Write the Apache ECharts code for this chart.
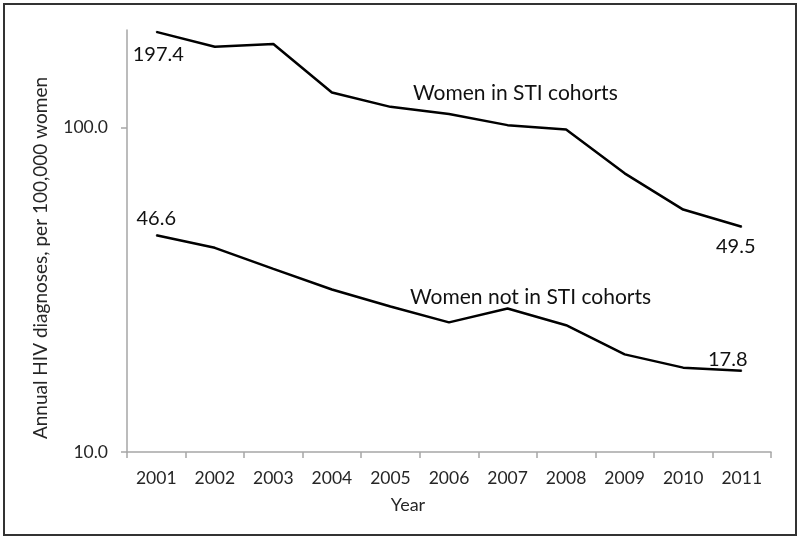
<!DOCTYPE html>
<html>
<head>
<meta charset="utf-8">
<script src="https://cdn.jsdelivr.net/npm/echarts@6/dist/echarts.min.js"></script>
<style>
html,body{margin:0;padding:0;background:#fff;}
#main{width:800px;height:540px;}
</style>
</head>
<body>
<div id="main"></div>
<script>
const years = ['2001','2002','2003','2004','2005','2006','2007','2008','2009','2010','2011'];
const womenInSTI = [197.4, 177.5, 181.0, 128.4, 115.9, 110.1, 101.8, 98.7, 72.3, 55.9, 49.5];
const womenNotInSTI = [46.6, 42.6, 36.7, 31.7, 28.1, 25.1, 27.7, 24.6, 20.0, 18.2, 17.8];
const yTicks = [10, 100];
const yAxisTitle = 'Annual HIV diagnoses, per 100,000 women';
const xAxisTitle = 'Year';
const seriesNames = ['Women in STI cohorts', 'Women not in STI cohorts'];

const FONT = 'Lato';
const chart = echarts.init(document.getElementById('main'), null, {renderer:'canvas'});

function endLabel(p){
  return (p.dataIndex === 0 || p.dataIndex === years.length - 1) ? p.value.toFixed(1) : '';
}

chart.setOption({
  backgroundColor: '#fff',
  animation: false,
  grid: {left: 127, right: 29, top: 30, bottom: 88, containLabel: false},
  xAxis: {
    type: 'category',
    data: years,
    boundaryGap: true,
    axisLine: {lineStyle: {color: '#a6a6a6', width: 1.5}},
    axisTick: {show: true, length: 6, lineStyle: {color: '#a6a6a6', width: 1.5}},
    axisLabel: {color: '#262626', fontFamily: FONT, fontSize: 17.5, margin: 17}
  },
  yAxis: {
    type: 'log',
    logBase: 10,
    min: 10,
    max: 200,
    axisLine: {show: true, lineStyle: {color: '#a6a6a6', width: 1.5}},
    axisTick: {show: true, length: 6, customValues: yTicks, lineStyle: {color: '#a6a6a6', width: 1.5}},
    axisLabel: {color: '#262626', fontFamily: FONT, fontSize: 17.5, margin: 19, customValues: yTicks,
      formatter: v => Number(v).toFixed(1)},
    splitLine: {show: true, showMinLine: false, showMaxLine: false, lineStyle: {color: '#a6a6a6', width: 1.5}}
  },
  graphic: [
    {type: 'rect', shape: {x: 4, y: 4, width: 792, height: 531}, style: {fill: 'none', stroke: '#333', lineWidth: 2}, silent: true},
    {type: 'text', x: 41, y: 258, rotation: Math.PI / 2,
      style: {text: yAxisTitle, fontFamily: FONT, fontSize: 19, fill: '#262626', align: 'center', verticalAlign: 'middle'}},
    {type: 'text', x: 408, y: 505,
      style: {text: xAxisTitle, fontFamily: FONT, fontSize: 18, fill: '#262626', align: 'center', verticalAlign: 'middle'}},
    {type: 'text', x: 413, y: 93,
      style: {text: seriesNames[0], fontFamily: FONT, fontSize: 21, fill: '#111', align: 'left', verticalAlign: 'middle'}},
    {type: 'text', x: 410, y: 297,
      style: {text: seriesNames[1], fontFamily: FONT, fontSize: 21, fill: '#111', align: 'left', verticalAlign: 'middle'}}
  ],
  series: [
    {
      name: seriesNames[0], type: 'line', data: womenInSTI,
      symbol: 'circle', symbolSize: 1, showSymbol: true, itemStyle: {color: '#000'},
      lineStyle: {color: '#000', width: 2.5},
      label: {show: true, position: 'bottom', distance: 12, formatter: endLabel,
        fontFamily: FONT, fontSize: 20, color: '#111'},
      labelLayout: p => (p.dataIndex === years.length - 1 ? {dx: -6, dy: -3} : {dx: 2})
    },
    {
      name: seriesNames[1], type: 'line', data: womenNotInSTI,
      symbol: 'circle', symbolSize: 1, showSymbol: true, itemStyle: {color: '#000'},
      lineStyle: {color: '#000', width: 2.5},
      label: {show: true, position: 'top', distance: 6, formatter: endLabel,
        fontFamily: FONT, fontSize: 20, color: '#111'},
      labelLayout: p => (p.dataIndex === years.length - 1 ? {dx: -14, dy: 5} : {})
    }
  ]
});
</script>
</body>
</html>
